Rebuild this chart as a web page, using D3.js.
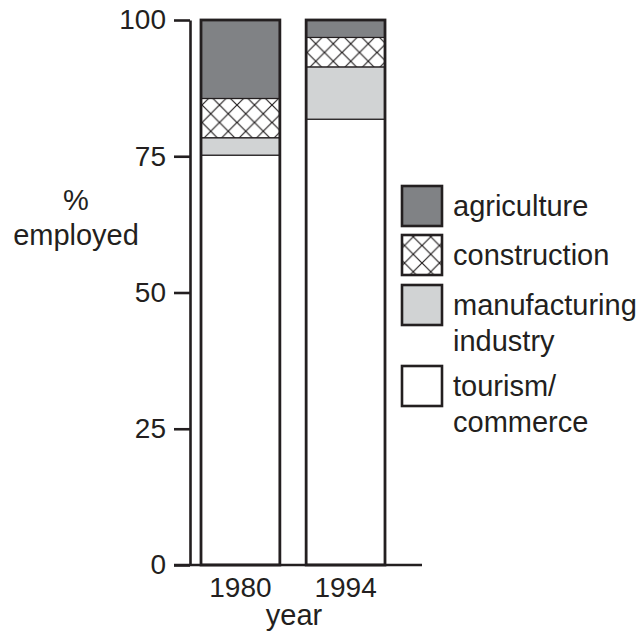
<!DOCTYPE html>
<html>
<head>
<meta charset="utf-8">
<script src="https://cdnjs.cloudflare.com/ajax/libs/d3/7.8.5/d3.min.js"></script>
<style>
  body { margin: 0; background: #fff; }
  text { font-family: "Liberation Sans", Arial, Helvetica, sans-serif; fill: #231f20; }
</style>
</head>
<body>
<div id="chart"></div>
<script>
// data
const years = ['1980', '1994'];
const tourism = [75.2, 81.8];
const manufacturing = [3.2, 9.6];
const construction = [7.2, 5.4];
const agriculture = [14.4, 3.2];
const yTicks = [0, 25, 50, 75, 100];

const sectors = ['tourism', 'manufacturing', 'construction', 'agriculture'];
const legendLabels = {
  agriculture: ['agriculture'],
  construction: ['construction'],
  manufacturing: ['manufacturing', 'industry'],
  tourism: ['tourism/', 'commerce']
};

const ink = '#231f20';
const fills = {
  tourism: '#ffffff',
  manufacturing: '#d1d3d4',
  construction: 'url(#hatch)',
  agriculture: '#808285'
};

const table = years.map((yr, i) => ({
  year: yr,
  tourism: tourism[i],
  manufacturing: manufacturing[i],
  construction: construction[i],
  agriculture: agriculture[i]
}));

const svg = d3.select('#chart')
  .append('svg')
  .attr('width', 642)
  .attr('height', 637);

const defs = svg.append('defs');

// crosshatch pattern, one for the bars and one for the legend box
function addHatch(id, px, py) {
  const pat = defs.append('pattern')
    .attr('id', id)
    .attr('patternUnits', 'userSpaceOnUse')
    .attr('x', px)
    .attr('y', py)
    .attr('width', 17.5)
    .attr('height', 17.5);
  pat.append('rect').attr('width', 17.5).attr('height', 17.5).attr('fill', '#fff');
  pat.append('path')
    .attr('d', 'M0,0L17.5,17.5M17.5,0L0,17.5M-1,16.5L1,18.5M16.5,-1L18.5,1')
    .attr('stroke', ink)
    .attr('stroke-width', 1.2);
}
addHatch('hatch', 202, 0);
addHatch('hatchL', 405, 238);

const y = d3.scaleLinear().domain([0, 100]).range([565, 20]);
const x = d3.scaleBand().domain(years).range([201, 385]).paddingInner(0.25);

const stack = d3.stack().keys(sectors)(table);

// bars
svg.append('g')
  .selectAll('g')
  .data(stack)
  .join('g')
  .attr('fill', d => fills[d.key])
  .selectAll('rect')
  .data(d => d)
  .join('rect')
  .attr('x', d => x(d.data.year))
  .attr('y', d => y(d[1]))
  .attr('width', x.bandwidth())
  .attr('height', d => y(d[0]) - y(d[1]))
  .attr('stroke', ink)
  .attr('stroke-width', 1.2);

// outer outline of each bar
svg.append('g')
  .selectAll('rect')
  .data(years)
  .join('rect')
  .attr('x', d => x(d))
  .attr('y', y(100))
  .attr('width', x.bandwidth())
  .attr('height', y(0) - y(100))
  .attr('fill', 'none')
  .attr('stroke', ink)
  .attr('stroke-width', 2.8);

// y axis
const yAxis = svg.append('g')
  .attr('transform', 'translate(190,0)')
  .call(d3.axisLeft(y).tickValues(yTicks).tickSize(16).tickSizeOuter(0).tickPadding(8));
yAxis.select('.domain').attr('stroke', ink).attr('stroke-width', 2.6);
yAxis.selectAll('.tick line').attr('stroke', ink).attr('stroke-width', 2.6);
yAxis.selectAll('.tick text')
  .attr('font-size', 28)
  .attr('font-family', null)
  .attr('fill', ink);

// x axis baseline
svg.append('line')
  .attr('x1', 174).attr('x2', 422)
  .attr('y1', y(0)).attr('y2', y(0))
  .attr('stroke', ink)
  .attr('stroke-width', 2.6);

svg.append('g')
  .selectAll('text')
  .data(years)
  .join('text')
  .attr('x', d => x(d) + x.bandwidth() / 2)
  .attr('y', 597)
  .attr('text-anchor', 'middle')
  .attr('font-size', 28)
  .text(d => d);

svg.append('text')
  .attr('x', 294)
  .attr('y', 625)
  .attr('text-anchor', 'middle')
  .attr('font-size', 29)
  .text('year');

// y axis title
svg.append('text')
  .attr('x', 76)
  .attr('y', 210)
  .attr('text-anchor', 'middle')
  .attr('font-size', 29)
  .text('%');
svg.append('text')
  .attr('x', 76)
  .attr('y', 245)
  .attr('text-anchor', 'middle')
  .attr('font-size', 29)
  .text('employed');

// legend
const legendOrder = ['agriculture', 'construction', 'manufacturing', 'tourism'];
const legendTop = [186, 235, 285, 366];
const legend = svg.append('g')
  .selectAll('g')
  .data(legendOrder)
  .join('g')
  .attr('transform', (d, i) => 'translate(402,' + legendTop[i] + ')');

legend.append('rect')
  .attr('width', 40)
  .attr('height', 40)
  .attr('fill', d => d === 'construction' ? 'url(#hatchL)' : fills[d])
  .attr('stroke', ink)
  .attr('stroke-width', 2.6);

legend.append('text')
  .attr('font-size', 29)
  .selectAll('tspan')
  .data(d => legendLabels[d])
  .join('tspan')
  .attr('x', 51)
  .attr('y', (d, i) => 30 + i * 36)
  .text(d => d);
</script>
</body>
</html>
